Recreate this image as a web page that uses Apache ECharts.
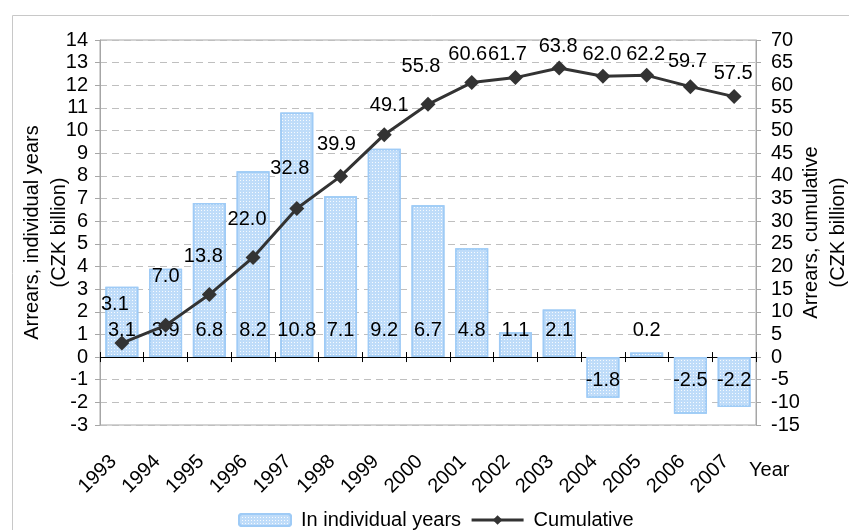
<!DOCTYPE html>
<html>
<head>
<meta charset="utf-8">
<script src="https://cdn.jsdelivr.net/npm/echarts@6/dist/echarts.min.js"></script>
<style>
html,body{margin:0;padding:0;background:#fff;}
#chart{width:849px;height:530px;}
</style>
</head>
<body>
<div id="chart"></div>
<script>
// ---- data ----
var years = ['1993','1994','1995','1996','1997','1998','1999','2000','2001','2002','2003','2004','2005','2006','2007'];
var individualYears = [3.1, 3.9, 6.8, 8.2, 10.8, 7.1, 9.2, 6.7, 4.8, 1.1, 2.1, -1.8, 0.2, -2.5, -2.2];
var cumulative = [3.1, 7.0, 13.8, 22.0, 32.8, 39.9, 49.1, 55.8, 60.6, 61.7, 63.8, 62.0, 62.2, 59.7, 57.5];
var leftTicks = {min: -3, max: 14, step: 1};
var rightTicks = {min: -15, max: 70, step: 5};

// ---- layout of the cumulative labels (pixel offsets from each point) ----
var cumLabelOffsets = [[-7,-39],[0,-49],[-6,-38],[-6,-38],[-7,-40],[-4,-32],[5,-29],[-7,-38],[-4,-28],[-8,-23],[-1,-22],[-1,-22],[-1,-21],[-3,-25],[-1,-23]];

var FONT = "'Liberation Sans', Arial, sans-serif";
var FS = 20;

var chart = echarts.init(document.getElementById('chart'), null, {renderer: 'canvas'});

var barData = individualYears.map(function (v) {
  return {
    value: v,
    label: v >= 0 ? {position: 'insideBottom', distance: 17} : {position: 'insideTop', distance: 13}
  };
});
var lineData = cumulative.map(function (v, i) {
  return {value: v, label: {offset: cumLabelOffsets[i]}};
});

var option = {
  animation: false,
  textStyle: {fontFamily: FONT},
  graphic: [
    {type: 'rect', left: 10, top: 13, shape: {width: 900, height: 600}, style: {fill: 'none', stroke: '#c8c8c8', lineWidth: 1}, z: -10},
    {type: 'text', left: 749, top: 460, style: {text: 'Year', font: FS + 'px ' + FONT, fill: '#000'}}
  ],
  grid: {left: 100, right: 93, top: 40, bottom: 105, containLabel: false, outerBoundsMode: 'none', show: true, borderColor: '#a6a6a6', borderWidth: 1, backgroundColor: 'transparent'},
  legend: {
    left: 233, top: 505,
    itemWidth: 52, itemHeight: 12, itemGap: 9,
    textStyle: {fontSize: FS, color: '#000', fontFamily: FONT, padding: [0, 0, 0, 5]},
    data: [
      {name: 'In individual years'},
      {name: 'Cumulative', lineStyle: {width: 3, color: '#333333'}, itemStyle: {color: '#333333'}}
    ]
  },
  xAxis: [
    {
      type: 'category', data: years, position: 'bottom',
      axisLine: {show: true, onZero: true, onZeroAxisIndex: 0, lineStyle: {color: '#000', width: 1}},
      axisTick: {show: true, length: 5, inside: false, alignWithLabel: false, interval: 0, lineStyle: {color: '#000'}},
      axisLabel: {show: false},
      splitLine: {show: false}
    },
    {
      type: 'category', data: years, position: 'bottom',
      axisLine: {show: true, onZero: true, onZeroAxisIndex: 0, lineStyle: {color: '#000', width: 1}},
      axisTick: {show: true, length: 5, inside: true, alignWithLabel: false, interval: 0, lineStyle: {color: '#000'}},
      axisLabel: {show: false},
      splitLine: {show: false}
    },
    {
      type: 'category', data: years, position: 'bottom',
      axisLine: {show: false, onZero: false},
      axisTick: {show: false},
      axisLabel: {show: true, interval: 0, rotate: 45, margin: 25, padding: [0, 12, 0, 0], fontSize: FS, color: '#000', fontFamily: FONT},
      splitLine: {show: false}
    }
  ],
  yAxis: [
    {
      type: 'value', position: 'left',
      min: leftTicks.min, max: leftTicks.max, interval: leftTicks.step,
      name: 'Arrears, individual years\n(CZK billion)',
      nameLocation: 'middle', nameRotate: 90, nameGap: 27, nameMoveOverlap: false,
      nameTextStyle: {fontSize: FS, color: '#000', lineHeight: 27, fontFamily: FONT},
      axisLine: {show: true, lineStyle: {color: '#a6a6a6'}},
      axisTick: {show: true, length: 5, inside: false, lineStyle: {color: '#a6a6a6'}},
      axisLabel: {fontSize: FS, color: '#000', margin: 12, fontFamily: FONT},
      splitLine: {show: true, lineStyle: {color: '#bfbfbf', type: [7, 5], width: 1}}
    },
    {
      type: 'value', position: 'right',
      min: rightTicks.min, max: rightTicks.max, interval: rightTicks.step,
      name: 'Arrears, cumulative\n(CZK billion)',
      nameLocation: 'middle', nameRotate: 90, nameGap: 42, nameMoveOverlap: false,
      nameTextStyle: {fontSize: FS, color: '#000', lineHeight: 27, fontFamily: FONT},
      axisLine: {show: true, lineStyle: {color: '#a6a6a6'}},
      axisTick: {show: true, length: 5, inside: false, lineStyle: {color: '#a6a6a6'}},
      axisLabel: {fontSize: FS, color: '#000', margin: 15, fontFamily: FONT},
      splitLine: {show: false}
    }
  ],
  series: [
    {
      name: 'In individual years',
      type: 'bar',
      xAxisIndex: 0, yAxisIndex: 0,
      barWidth: 33,
      data: barData,
      itemStyle: {
        color: '#bfdcf9', borderColor: '#9fcbf6', borderWidth: 1.5,
        decal: {symbol: 'rect', symbolSize: 1, dashArrayX: [1, 2], dashArrayY: [1, 2], color: 'rgba(255,255,255,0.85)', rotation: 0}
      },
      label: {show: true, fontSize: FS, color: '#000', fontFamily: FONT, formatter: function (p) { return p.value.toFixed(1); }},
      z: 2
    },
    {
      name: 'Cumulative',
      type: 'line',
      xAxisIndex: 0, yAxisIndex: 1,
      data: lineData,
      symbol: 'diamond', symbolSize: 15,
      lineStyle: {color: '#333333', width: 3},
      itemStyle: {color: '#333333'},
      label: {show: true, position: 'inside', fontSize: FS, color: '#000', fontFamily: FONT, formatter: function (p) { return p.value.toFixed(1); }},
      z: 3
    }
  ]
};
chart.setOption(option);
</script>
</body>
</html>
